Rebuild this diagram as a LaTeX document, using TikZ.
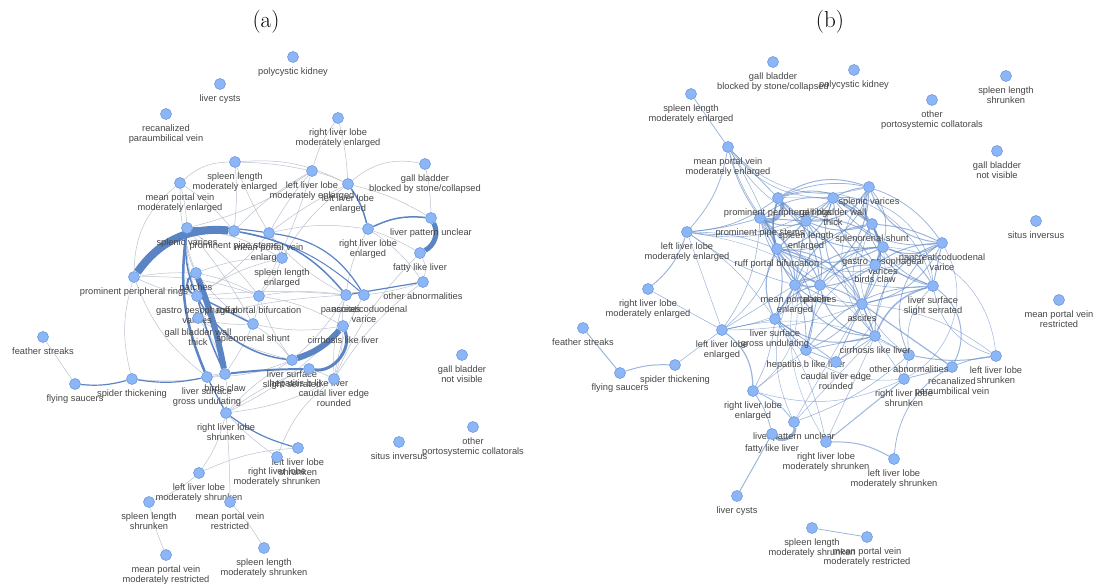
\documentclass[tikz,border=0pt]{standalone}
\usepackage{fontspec}
\newfontfamily\labelfont{Liberation Sans}
\usetikzlibrary{backgrounds}

\definecolor{nodefill}{HTML}{8DB6F7}
\definecolor{nodeline}{HTML}{6C9AE0}
\definecolor{edgegray}{HTML}{BAC2CF}
\definecolor{edgeblue}{HTML}{5B84C4}
\definecolor{labelgray}{HTML}{454545}

\begin{document}
\begin{tikzpicture}[x=1pt,y=-1pt,
  gnode/.style={circle,fill=nodefill,draw=nodeline,line width=0.6pt,minimum size=11pt,inner sep=0pt},
  glabel/.style={font=\labelfont\fontsize{9.3}{10}\selectfont,text=labelgray,align=center,inner sep=0pt,label distance=4.5pt},
  gedge/.style={draw=edgegray,line width=0.5pt},
  bedge/.style={draw=edgeblue},
  cedge/.style={draw=edgeblue,opacity=0.6}]

% page frame
\useasboundingbox (0,0) rectangle (1096,585);

% titles
\node[font=\fontsize{23}{25}\selectfont] (ta) at (266,22) {(a)};
\node[font=\fontsize{23}{25}\selectfont] (tb) at (830,22) {(b)};

% nodes of both graphs
\foreach \n/\xa/\ya/\xb/\yb/\txt in {
  pk/293/57/854/70/{polycystic kidney},
  lc/220/84/737/496/{liver cysts},
  rpv/166/114/952/367/{recanalized\\paraumbilical vein},
  rme/338/118/648/289/{right liver lobe\\moderately enlarged},
  sme/235/162/691/94/{spleen length\\moderately enlarged},
  mme/180/183/728/147/{mean portal vein\\moderately enlarged},
  lme/312/171/687/232/{left liver lobe\\moderately enlarged},
  le/348/184/722/330/{left liver lobe\\enlarged},
  gbb/425/164/773/62/{gall bladder\\blocked by stone/collapsed},
  sv/187/228/869/187/{splenic varices},
  pps/234/231/760/218/{prominent pipe stems},
  mpe/269/233/795/285/{mean portal vein\\enlarged},
  re/368/229/753/391/{right liver lobe\\enlarged},
  lpu/431/218/794/422/{liver pattern unclear},
  fl/420/253/772/434/{fatty like liver},
  se/282/258/806/221/{spleen length\\enlarged},
  ppr/134/277/778/198/{prominent peripheral rings},
  pa/196/273/820/285/{patches},
  gov/197/296/883/247/{gastro oesophageal\\varices},
  rpb/259/296/777/249/{ruff portal bifurcation},
  gwt/198/318/833/198/{gall bladder wall\\thick},
  ss/253/324/872/224/{splenorenal shunt},
  as/346/295/862/304/{ascites},
  pdv/364/295/942/243/{pancreaticoduodenal\\varice},
  oa/423/282/909/355/{other abnormalities},
  cl/343/326/875/336/{cirrhosis like liver},
  lss/292/360/933/286/{liver surface\\slight serrated},
  hb/309/369/806/350/{hepatitis b like liver},
  cr/334/379/836/362/{caudal liver edge\\rounded},
  bc/225/374/875/265/{birds claw},
  lsg/207/377/775/319/{liver surface\\gross undulating},
  st/132/379/675/365/{spider thickening},
  fs/75/384/620/373/{flying saucers},
  fe/43/337/583/328/{feather streaks},
  rs/226/413/904/379/{right liver lobe\\shrunken},
  ls/298/448/996/356/{left liver lobe\\shrunken},
  rms/277/457/826/442/{right liver lobe\\moderately shrunken},
  lms/199/473/894/459/{left liver lobe\\moderately shrunken},
  ssh/149/502/1006/76/{spleen length\\shrunken},
  mr/230/502/1059/300/{mean portal vein\\restricted},
  mmr/166/555/867/537/{mean portal vein\\moderately restricted},
  sms/264/548/812/528/{spleen length\\moderately shrunken},
  si/399/442/1036/221/{situs inversus},
  opc/473/427/932/100/{other\\portosystemic collatorals},
  gnv/462/355/997/151/{gall bladder\\not visible}}
{
  \node[gnode,label={[glabel]below:\txt}] (a\n) at (\xa,\ya) {};
  \node[gnode,label={[glabel]below:\txt}] (b\n) at (\xb,\yb) {};
}

\begin{scope}[on background layer]
% graph (a): light links
\foreach \u/\v/\b in {sme/mme/-20, sme/le/15, sme/pps/5, sme/mpe/-5, sme/lme/5,
  mme/ppr/-25, mme/pps/8, mme/pa/-10, mme/sv/5,
  rme/lme/-10, rme/le/5,
  lme/pps/-8, lme/sv/10, lme/rpb/5, lme/mpe/-5, lme/le/5,
  le/gbb/25, le/se/-10, le/lpu/8, le/mpe/-5,
  gbb/lpu/5, mpe/re/10, mpe/se/5, mpe/as/-10, mpe/gov/8,
  re/fl/5, re/as/-10, re/oa/10,
  fl/oa/20, fl/cr/-10, oa/cr/-10, oa/pdv/5,
  ppr/st/-15, ppr/pa/5, ppr/gov/-8, ppr/lsg/-15, ppr/rpb/10,
  fe/fs/0, st/bc/-8,
  sv/gov/-10, sv/rpb/8, sv/se/10, sv/pa/-15, sv/ss/5,
  pa/rpb/8, pa/se/10, pa/ss/-10,
  gov/rpb/-8, gov/se/10, gov/as/5,
  rpb/se/-10, rpb/as/8, rpb/ss/5, rpb/lss/-8, rpb/cl/10,
  gwt/ss/-8, gwt/bc/10, gwt/as/5, gwt/lss/-10,
  ss/lss/8, ss/cl/-10, ss/bc/5,
  as/pdv/20, as/cl/-10, as/lss/8, as/cr/-10,
  pdv/cr/-10, cl/cr/8, cl/rs/10,
  lss/rs/-8, lss/lsg/10, hb/cr/5, hb/rs/-8,
  cr/rms/-15, cr/rs/10, bc/lsg/-10, bc/rs/8,
  rs/rms/-5, rs/lms/10, rs/mr/2,
  lms/ls/10, lms/ssh/10, ssh/mmr/-5, mr/sms/5}
  \draw[gedge] (a\u) to[bend left=\b] (a\v);

% graph (a): strong links
\foreach \u/\v/\b/\w in {ppr/pps/30/8, pa/bc/5/6, lss/cl/-15/6, lpu/fl/45/5,
  hb/cl/-60/3, sv/lsg/-15/2.5, bc/hb/3/2, le/re/10/1.5, re/lpu/15/1.5,
  st/fs/10/1.2, st/lsg/-10/1.2, lsg/rs/0/1.2, rs/ls/-10/1.2,
  pps/as/20/1.5, sv/mpe/5/1.2, pa/gov/-60/2, gov/ss/0/1.5, as/oa/0/1.2,
  mpe/pdv/25/1.2, sv/lss/-45/1.5, pps/pdv/15/1, gov/bc/-5/1.5}
  \draw[bedge,line width=\w pt] (a\u) to[bend left=\b] (a\v);

% graph (b): all links
\foreach \u/\v/\b/\w in {sme/mme/0/0.8,
  mme/pps/-10/0.8, mme/se/-15/0.6, mme/lss/-40/0.6, mme/lme/15/0.8, mme/rpb/5/0.6,
  mme/ppr/0/0.8, mme/gwt/-25/0.6, mme/sv/-30/0.5,
  lme/rme/15/1, lme/ppr/-15/0.8, lme/pps/-5/0.8, lme/se/-15/0.6, lme/mpe/-10/0.6,
  lme/le/0/0.5, lme/rpb/10/0.6, lme/lsg/10/0.5, lme/gwt/-20/0.6, lme/cl/20/0.4,
  rme/le/0/0.6, fe/fs/0/1, fs/st/10/1, st/le/0/0.6,
  le/re/25/1.2, le/lsg/0/0.6, le/mpe/0/0.6, le/rpb/-15/0.6, le/pps/-15/0.6, le/as/-10/0.5,
  le/ss/-25/0.4, le/oa/20/0.4,
  re/lpu/15/0.8, re/fl/10/0.8, re/lsg/-10/0.6, re/hb/0/0.5, re/rs/-20/0.5, re/mpe/-30/0.5,
  lpu/fl/70/3, lpu/oa/-10/0.6, lpu/as/0/0.5, lpu/cl/0/0.5, lpu/mpe/25/0.5, fl/lc/0/1,
  rms/lms/15/1, rms/rs/0/1, rms/lsg/-10/0.5, rms/cl/0/0.5, lms/ls/40/0.8, rms/mpe/20/0.4,
  rs/rpv/0/0.8, rs/oa/0/0.6, rs/cl/0/0.5, rs/pdv/-45/0.5, rs/lsg/30/0.5,
  ls/lss/30/0.6, ls/as/-15/0.5, ls/oa/10/1, ls/gov/-40/0.5,
  rpv/as/0/1.2, rpv/lss/-40/1, oa/cl/0/0.8, oa/lss/25/0.6, oa/ss/40/0.5, sms/mmr/0/0.8,
  ppr/pps/75/4, ppr/gwt/0/1, ppr/sv/25/1, ppr/se/0/1, ppr/rpb/-15/1.5, ppr/pa/20/1,
  ppr/ss/35/0.8, ppr/gov/-30/1, ppr/mpe/-25/1.2, ppr/pdv/40/0.8, ppr/lss/45/0.6,
  pps/se/0/1, pps/rpb/15/1.5, pps/mpe/25/1.2, pps/pa/-20/1, pps/lsg/25/1, pps/gwt/-40/1,
  pps/ss/40/0.8, pps/as/-35/0.8, pps/bc/35/0.8,
  gwt/sv/10/1, gwt/se/0/1, gwt/ss/0/1.5, gwt/gov/20/1, gwt/rpb/30/1, gwt/bc/-25/1,
  gwt/pdv/-30/0.8, gwt/lss/45/0.6, gwt/as/-35/0.8,
  sv/ss/-30/1, sv/pdv/-30/1, sv/gov/25/0.8, sv/se/30/1, sv/mpe/35/1, sv/lss/-45/0.8,
  sv/rpb/40/0.8, sv/cl/-40/0.5,
  se/rpb/0/1.2, se/mpe/0/1, se/pa/20/1, se/ss/-20/1, se/gov/25/1, se/as/15/1, se/lsg/30/0.6,
  ss/gov/0/1, ss/pdv/10/1, ss/bc/25/1, ss/mpe/-30/1, ss/as/30/0.8, ss/lss/-25/0.8, ss/cl/-35/0.6,
  rpb/mpe/10/1, rpb/pa/30/1, rpb/lsg/-25/1.2, rpb/gov/-25/1, rpb/as/30/1, rpb/hb/35/0.8,
  rpb/pdv/-30/0.6, rpb/cl/30/0.6,
  gov/bc/0/1, gov/pdv/-25/1, gov/mpe/-20/1, gov/as/0/1, gov/lss/20/1, gov/pa/-25/1, gov/cr/30/0.5,
  pdv/lss/0/1, pdv/as/25/0.8, pdv/bc/-15/1, pdv/cl/-35/1, pdv/oa/-40/0.8,
  bc/mpe/20/1, bc/pa/-20/1, bc/as/10/1, bc/lss/0/0.8, bc/hb/-30/0.6,
  mpe/pa/35/1.5, mpe/lsg/0/1.5, mpe/as/-25/1, mpe/hb/10/0.8, mpe/cl/-30/1,
  pa/as/10/1, pa/lsg/-25/1, pa/cl/-35/1, pa/hb/0/0.8,
  lss/as/0/1, lss/cl/-25/1.5, lss/hb/-25/0.8,
  as/cl/0/1, as/cr/0/0.8, as/hb/15/0.8,
  lsg/hb/0/0.8, lsg/cl/-25/1, lsg/cr/0/0.8, cl/hb/0/0.8, cl/cr/0/0.8, hb/cr/0/0.8}
  \draw[cedge,line width=\w pt] (b\u) to[bend left=\b] (b\v);
\end{scope}

\end{tikzpicture}
\end{document}
